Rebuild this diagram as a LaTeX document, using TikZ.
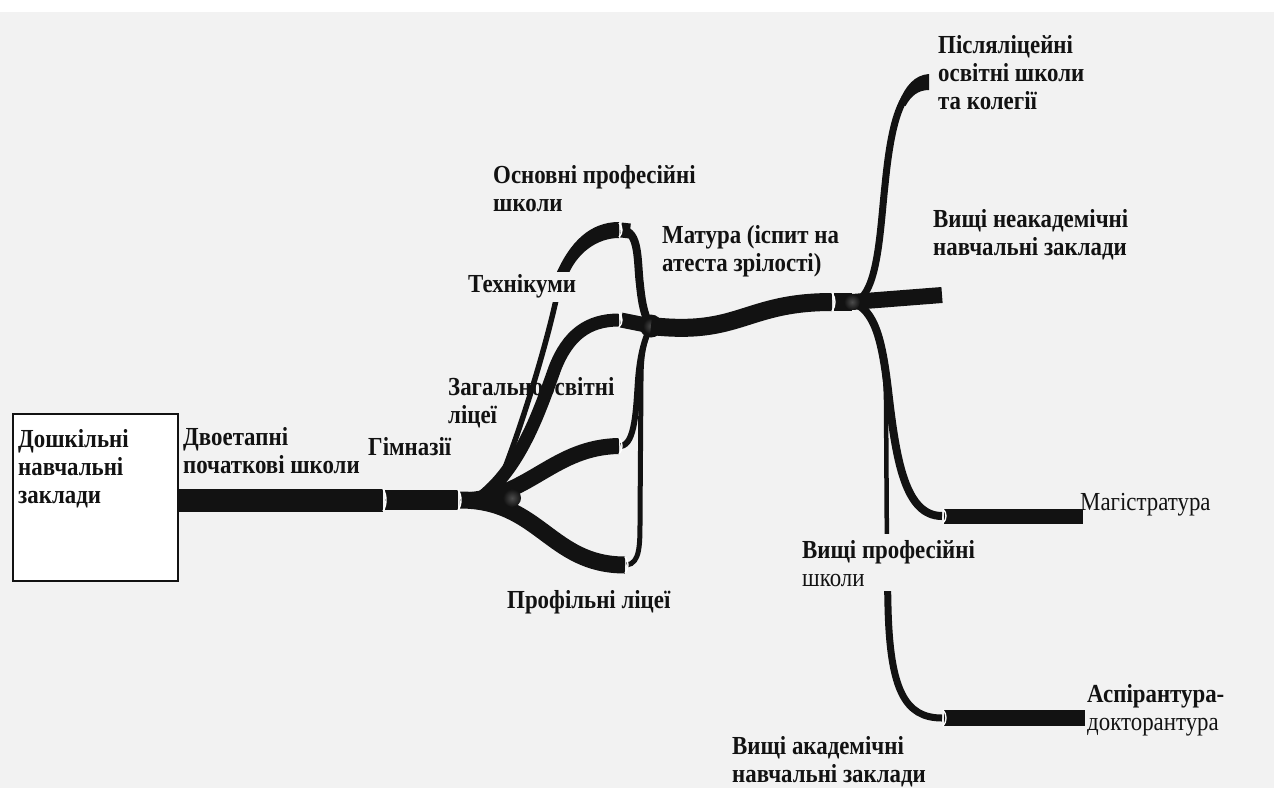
\documentclass[tikz,border=0pt]{standalone}
\usepackage{fontspec}
\setmainfont{Liberation Serif}
\newfontfamily\lblfont{Liberation Serif}[FakeStretch=0.88]
\definecolor{bg}{HTML}{F2F2F2}
\definecolor{ink}{HTML}{121212}
\newcommand\chevr[3]{\draw[chevline] (#1,#2-#3) .. controls (#1+4,#2-#3/2) and (#1+4,#2+#3/2) .. (#1,#2+#3);}
\begin{document}
\begin{tikzpicture}[x=1pt,y=-1pt,
  flow/.style={draw=ink, line cap=butt},
  lbl/.style={font=\lblfont\fontsize{26}{28}\selectfont\bfseries, text=ink, align=left,
    anchor=north west, inner xsep=2pt, inner ysep=1pt, fill=bg},
  chevline/.style={draw=white, line width=1.4pt},
  blob/.style={inner color=gray!60!black, outer color=ink}]
\fill[bg] (0,0) rectangle (1274,788);
\fill[white] (0,0) rectangle (1274,12);
\useasboundingbox (0,0) rectangle (1274,788);

% preschool box
\node[draw=ink, line width=1.6pt, fill=white, minimum width=165pt, minimum height=167pt,
  anchor=north west, inner sep=0pt] (box) at (12,413) {};

% label behind lines
\node[lbl, fill=none] (zag) at (446,374.4) {\strut Загальноосвітні\\ліцеї};

% coordinates
\coordinate (t0) at (box.east |- 0,500);
\coordinate (t1) at (383,500);
\coordinate (t2) at (385,500);
\coordinate (t3) at (458,500);
\coordinate (br) at (460,500);
\coordinate (pl) at (625,565);
\coordinate (ml) at (619,446);
\coordinate (zl) at (619,320);
\coordinate (ol) at (619,230);
\coordinate (mat) at (651,326);
\coordinate (m1) at (832,302);
\coordinate (n2) at (852,302);
\coordinate (neak) at (942,295);
\coordinate (post) at (928,82);
\coordinate (magA) at (942,516);
\coordinate (magB) at (1083,516);
\coordinate (aspA) at (942,718);
\coordinate (aspB) at (1085,718);

% trunk
\draw[flow, line width=23pt] (t0) -- (t1);
\draw[flow, line width=20pt] (t2) -- (t3);
% branches
\draw[flow, line width=17pt] (br) .. controls (540,500) and (550,565) .. (pl);
\draw[flow, line width=16pt] (470,500) .. controls (530,495) and (555,447) .. (ml);
\draw[flow, line width=13pt] (478,500) .. controls (520,470) and (540,410) .. (555,368)
   .. controls (568,335) and (588,320) .. (zl);
\draw[flow, line width=5.5pt] (492,500) .. controls (518,440) and (545,350) .. (556,300)
   .. controls (563,262) and (585,230) .. (ol);
\fill[ink] (556,274) .. controls (570,242) and (590,222) .. (619,222) -- (619,238)
   .. controls (598,238) and (576,252) .. (566,280) -- cycle;
% stubs into Matura node
\draw[flow, line width=15pt] (621,230) -- (630,231);
\draw[flow, line width=8pt] (621,230) .. controls (640,230) and (637,262) .. (640,285)
   .. controls (642,305) and (645,318) .. (mat);
\draw[flow, line width=15pt] (621,320) -- (mat);
\draw[flow, line width=6pt] (621,446) .. controls (635,444) and (636,410) .. (638,380)
   .. controls (640,355) and (644,340) .. (mat);
\draw[flow, line width=5pt] (627,565) .. controls (640,563) and (640,545) .. (640,520)
   -- (641,380) .. controls (641,355) and (644,340) .. (mat);
\fill[ink] (mat) circle (11.5pt);
\shade[blob] (mat) circle (8pt);
% Matura band
\draw[flow, line width=18pt] (mat) .. controls (740,336) and (745,302) .. (m1);
\draw[flow, line width=18pt] (834,302) -- (n2);
% from second node
\draw[flow, line width=16pt] (n2) -- (neak);
\draw[flow, line width=7pt] (n2) .. controls (878,300) and (880,230) .. (885,185)
   .. controls (891,125) and (900,85) .. (post);
\fill[ink] (898.5,103) .. controls (906,85) and (915,75) .. (929,74) -- (929,90)
   .. controls (918,90) and (911,96) .. (905.5,106) -- cycle;
\draw[flow, line width=8pt] (n2) .. controls (875,310) and (882,340) .. (888,390)
   .. controls (896,460) and (905,516) .. (magA);
\draw[flow, line width=15pt] (944,516) -- (magB);
\draw[flow, line width=4.5pt] (n2) .. controls (876,312) and (885,350) .. (886,400)
   -- (887,560);
\draw[flow, line width=7pt] (887,560) -- (888,607) .. controls (890,690) and (905,718) .. (aspA);
\draw[flow, line width=16pt] (944,718) -- (aspB);
\shade[blob] (n2) circle (8pt);
\shade[blob] (512,498) circle (9pt);

% separators
\chevr{383}{500}{11}
\chevr{458}{500}{10}
\chevr{619}{230}{7}
\chevr{619}{320}{7}
\chevr{619}{446}{8}
\chevr{625}{565}{8}
\chevr{832}{302}{9}
\chevr{943}{516}{7}
\chevr{943}{718}{8}

% labels
\node[lbl, fill=none] (preschool) at (16,426.4) {\strut Дошкільні\\навчальні\\заклади};
\node[lbl] (prim) at (181,424.4) {\strut Двоетапні\\початкові школи};
\node[lbl] (gym) at (366,434.4) {\strut Гімназії};
\node[lbl] (tech) at (466,271.4) {\strut Технікуми};
\node[lbl] (osn) at (491,162.4) {\strut Основні професійні\\школи};
\node[lbl] (profl) at (505,587.4) {\strut Профільні ліцеї};
\node[lbl] (matura) at (660,222.4) {\strut Матура (іспит на\\атеста зрілості)};
\node[lbl] (postsec) at (936,32.4) {\strut Післяліцейні\\освітні школи\\та колегії};
\node[lbl] (nonacad) at (931,206.4) {\strut Вищі неакадемічні\\навчальні заклади};
\node[lbl, font=\lblfont\fontsize{26}{28}\selectfont, fill=none] (magl) at (1078,489.4) {\strut Магістратура};
\node[lbl, inner ysep=5pt] (vprof) at (800,533.4) {\strut Вищі професійні\\{\mdseries школи}};
\node[lbl] (aspl) at (1085,681.4) {\strut Аспірантура-\\{\mdseries докторантура}};
\node[lbl] (acad) at (730,733.4) {\strut Вищі академічні\\навчальні заклади};
\end{tikzpicture}
\end{document}
